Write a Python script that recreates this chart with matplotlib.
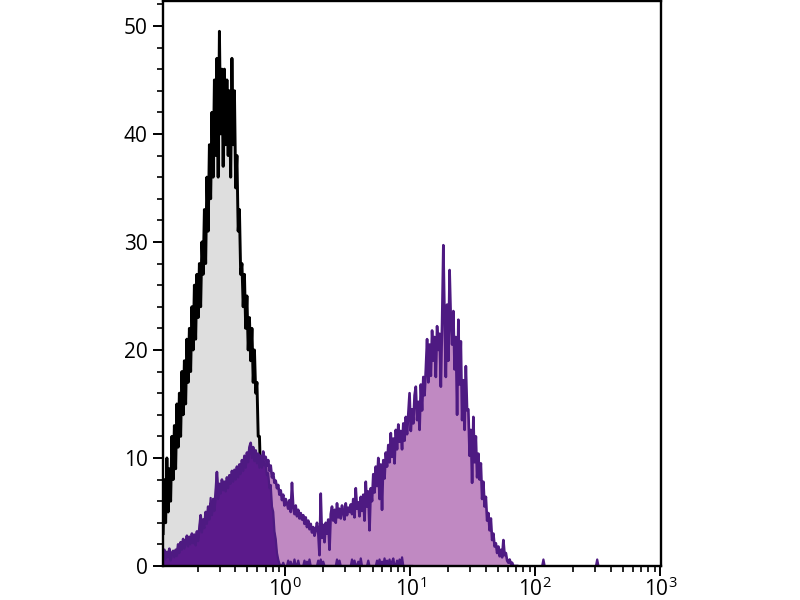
import numpy as np
import matplotlib
matplotlib.use("Agg")
from matplotlib import pyplot as plt
from matplotlib.ticker import MultipleLocator, LogLocator, NullFormatter

plt.rcParams['font.family'] = ['Open Sans', 'DejaVu Sans']
plt.rcParams['mathtext.fontset'] = 'custom'
plt.rcParams['mathtext.rm'] = 'Open Sans'
plt.rcParams['mathtext.it'] = 'Open Sans'

# histogram bins: centres in log10 units, first centre + step
log_start = -0.975
log_step = 0.01

# isotype control (grey fill, black outline)
control_counts = [
    3, 8, 4, 10, 5, 9, 6, 12,
    8, 13, 9, 15, 11, 16, 12, 18,
    14, 19, 15, 21, 17, 22, 18, 24,
    20, 26, 21, 27, 23, 28, 24, 30,
    27, 33, 28, 36, 31, 39, 34, 42,
    36, 45, 38, 47, 36, 49.5, 40, 46,
    37, 46, 39, 45, 38, 44, 36, 47,
    39, 44, 35, 38, 31, 33, 27, 28,
    24, 27, 22, 25, 20, 23, 19, 22,
    17, 20, 16, 17, 12, 12, 8, 9,
    5, 6, 3, 3, 1, 1, 0,
]

# stained sample (light purple fill)
stained_counts = [
    1, 1.5, 0.8, 1.3, 1, 1.6, 0.7, 1.2, 1.4, 1,
    1.5, 1.1, 2, 1.4, 2.2, 1.8, 2.5, 1.9, 2.2, 2.8,
    2.1, 2.7, 2.3, 3, 2.4, 2.9, 2.2, 3.2, 2.6, 3.5,
    4.7, 3.4, 4.3, 3.8, 5, 4.2, 5.5, 4.6, 5.8, 5,
    6.2, 5.4, 6.8, 8.7, 6.5, 7.6, 7, 8, 7.3, 7.8,
    7.2, 8.2, 7.5, 8.4, 7.9, 8.8, 8.1, 8.9, 8.3, 9.2,
    8.5, 9.4, 8.8, 9.8, 9.1, 10.2, 9.4, 10.5, 9.9, 11,
    11.4, 10.3, 11, 10, 10.7, 9.8, 10.4, 9.5, 10.2, 9.6,
    10.6, 9.9, 10.1, 9.3, 9.8, 8.8, 9.3, 8.2, 8.6, 7.7,
    7.9, 7.2, 7.5, 6.6, 7, 6.1, 6.6, 5.6, 6.2, 5.8,
    5.3, 6.1, 5, 7.7, 5.5, 4.8, 5.6, 4.6, 5.2, 4.4,
    4.9, 4.3, 4.7, 3.9, 4.5, 3.6, 4.2, 3.4, 3.9, 3.1,
    3.6, 2.8, 3.3, 4, 3.1, 1, 6.7, 2.6, 3.8, 2.2,
    4, 3, 4.3, 1.5, 4.8, 5.5, 4.2, 5.2, 4, 5.8,
    4.5, 5.3, 4.4, 5.6, 5, 4.3, 5.8, 4.7, 5.4, 5,
    5.7, 4.8, 6.2, 4.5, 7.2, 5.3, 5.9, 4.6, 6.4, 5.1,
    6.6, 4.2, 7.8, 5.5, 6.9, 3.3, 7.2, 6, 8.5, 6.8,
    9.2, 7.4, 10, 6.2, 9.4, 5.2, 9.8, 8.1, 10.5, 9.2,
    11.2, 9.6, 12.3, 10.1, 11.8, 9.5, 12.6, 10.8, 13.1, 11.5,
    12.5, 10.8, 13.2, 11.6, 13.8, 12.2, 14.1, 16, 12.5, 14.5,
    13.2, 15.8, 16.6, 13.5, 15.2, 12.6, 16.8, 14.4, 17.5, 15.8,
    18.2, 21, 17, 20.5, 17.6, 21.8, 19, 21.2, 17.5, 22.2,
    20, 21.5, 16.6, 22.5, 29.7, 23, 17.5, 24.2, 19, 27.4,
    22.8, 20.5, 23.6, 18.2, 21.2, 14, 22.8, 16.8, 20.8, 13.5,
    17.2, 12.6, 18.5, 14.4, 14.5, 10.2, 12.6, 7.7, 13.8, 9.6,
    12, 8.2, 10.4, 8, 9.5, 6.2, 7.8, 5.5, 6.4, 4.2,
    4.9, 3.3, 4.4, 2.4, 3, 1.8, 2.1, 1.2, 1.8, 0.9,
    1.5, 0.8, 2.4, 1, 1.2, 0.5, 0.3, 0.6, 0.2, 0.3, 0, 0, 0, 0,
]

# unstained sample (dark purple fill)
unstained_counts = [
    0.8, 1.2, 0.6, 1.1, 0.8, 1.3, 0.5, 1, 1.1, 0.8,
    1.2, 0.9, 1.7, 1.2, 2, 1.5, 2.1, 1.6, 1.9, 2.4,
    1.8, 2.4, 2, 2.7, 2.1, 2.6, 1.9, 3, 2.3, 3.3,
    4.5, 3.1, 4, 3.5, 4.7, 3.9, 5.2, 4.3, 6.3, 4.7,
    5.9, 5.1, 6.5, 8.5, 6.2, 7.3, 6.7, 7.7, 7, 7.5,
    6.9, 7.9, 7.2, 8.1, 7.6, 8.5, 7.8, 8.6, 8, 9,
    8.2, 9.1, 8.5, 9.5, 8.8, 9.9, 9.1, 10.2, 9.6, 10.8,
    11.2, 10, 10.7, 9.7, 10.4, 9.5, 10, 9.1, 9.8, 9.1,
    10.2, 9.3, 9.5, 8.4, 8.6, 7.2, 7.5, 5.5, 5, 3.2,
    2.5, 1.2, 0.6, 0.2, 0, 0, 0.3, 0, 0, 0,
    0.5, 0, 0.4, 0, 0, 0.6, 0, 0, 0.5, 0,
    0, 0, 0, 0.5, 0, 0.4, 0, 0.6, 0, 0,
    0, 0, 0, 0, 0.5, 0, 0.6, 0, 0.4, 0,
    0, 0, 0, 0, 0, 0, 0, 0, 0, 0.6,
    0, 0.5, 0, 0, 0, 0, 0, 0, 0, 0,
    0, 0.6, 0, 0.5, 0, 0, 0.4, 0, 0.7, 0,
    0, 0, 0, 0, 0.5, 0, 0, 0, 0, 0,
    0, 0.5, 0, 0.6, 0, 0.4, 0, 0.7, 0, 0.5,
    0, 0.6, 0, 0.4, 0.7, 0, 0, 0.5, 0, 0.6,
    0, 0.8, 0, 0, 0, 0, 0, 0, 0, 0,
]
# isolated single events further out
unstained_extra_log = [2.065, 2.495]
unstained_extra_counts = [0.6, 0.6]

yticks = [0, 10, 20, 30, 40, 50]


def centres(counts):
    return 10 ** (log_start + log_step * np.arange(len(counts)))


fig = plt.figure(figsize=(8, 6), dpi=100)
ax = fig.add_axes([0.20375, 0.0567, 0.6225, 0.9415])

xc = centres(control_counts)
ax.fill_between(xc, 0, control_counts, color='#dedede', lw=0, zorder=1)
ax.plot(xc, control_counts, color='black', lw=2.1, zorder=1.2)

xs = centres(stained_counts)
ax.fill_between(xs, 0, stained_counts, color='#c089c2', lw=0, zorder=1.4)

xu = centres(unstained_counts)
ax.fill_between(xu, 0, unstained_counts, color='#5b1a8b', lw=0, zorder=1.5)
ax.plot(xs, stained_counts, color='#4e1a82', lw=1.9, zorder=1.6)
ax.plot(xu, unstained_counts, color='#4e1a82', lw=1.6, zorder=1.7)
for lx, c in zip(unstained_extra_log, unstained_extra_counts):
    ax.plot([10 ** (lx - log_step), 10 ** lx, 10 ** (lx + log_step)], [0, c, 0],
            color='#4e1a82', lw=1.6, zorder=1.7)

ax.set_xscale('log')
ax.set_xlim(10 ** -0.976, 10 ** 3.005)
ax.set_ylim(0, 52.3)
ax.set_yticks(yticks)
ax.yaxis.set_minor_locator(MultipleLocator(2))
ax.xaxis.set_major_locator(LogLocator(base=10, numticks=10))
ax.xaxis.set_minor_locator(LogLocator(base=10, subs=np.arange(2, 10), numticks=20))
ax.xaxis.set_minor_formatter(NullFormatter())

for s in ax.spines.values():
    s.set_linewidth(1.7)
    s.set_zorder(3)
ax.tick_params(which='major', direction='out', length=7, width=1.4,
               labelsize=15, pad=4, right=False, top=False)
ax.tick_params(axis='x', which='major', pad=1.5)
ax.tick_params(which='minor', direction='out', length=4, width=1.2,
               right=False, top=False)

fig.savefig('out.png', dpi=100)
